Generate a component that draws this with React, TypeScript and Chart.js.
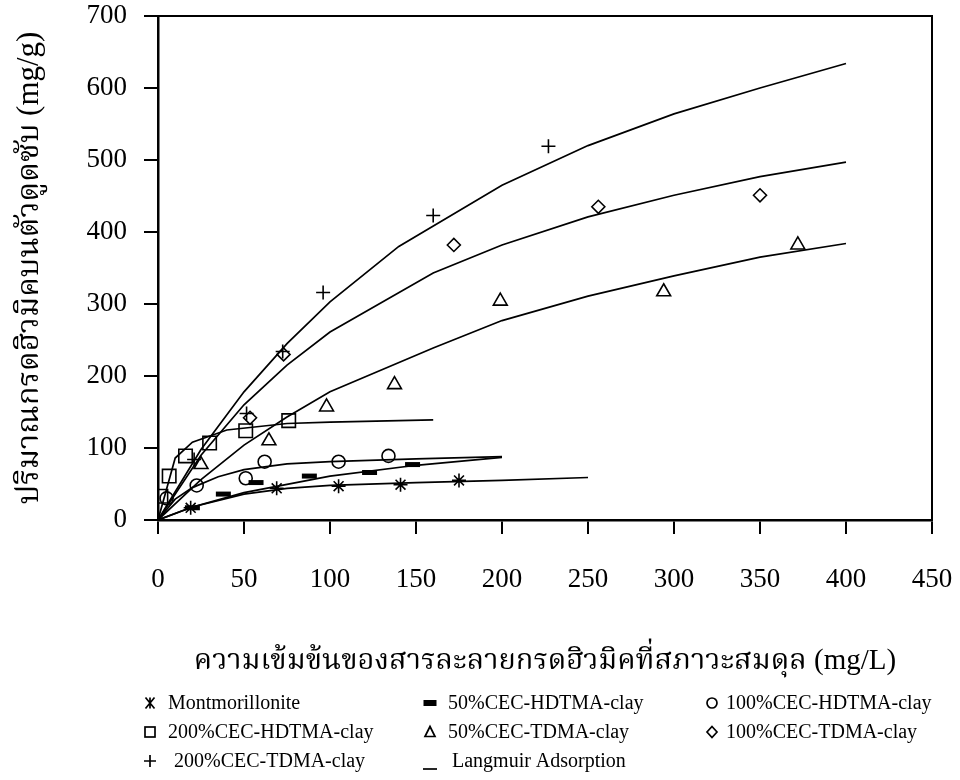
import React, { useEffect, useRef } from 'react';
import { Chart, registerables } from 'chart.js';

Chart.register(...registerables);

const FONT = "'Liberation Serif', 'Times New Roman', 'Noto Serif Thai', 'Noto Sans Thai', serif";

// Tick labels
const xTicks = [0, 50, 100, 150, 200, 250, 300, 350, 400, 450];
const yTicks = [0, 100, 200, 300, 400, 500, 600, 700];

const xTitle = 'ความเข้มข้นของสารละลายกรดฮิวมิคที่สภาวะสมดุล (mg/L)';
const yTitle = 'ปริมาณกรดฮิวมิคบนตัวดูดซับ (mg/g)';

// Series labels
const seriesLabels = [
  'Montmorillonite',
  '50%CEC-HDTMA-clay',
  '100%CEC-HDTMA-clay',
  '200%CEC-HDTMA-clay',
  '50%CEC-TDMA-clay',
  '100%CEC-TDMA-clay',
  '200%CEC-TDMA-clay',
];
const fitLabel = 'Langmuir Adsorption';

// Measured points
const montX = [19, 69, 105, 141, 175];
const montY = [17, 44, 47, 49, 55];
const hd50X = [20, 38, 57, 88, 123, 148];
const hd50Y = [17, 36, 52, 61, 66, 77];
const hd100X = [5, 22.5, 51, 62, 105, 134];
const hd100Y = [30, 48, 58, 81, 81, 89];
const hd200X = [1.7, 6.5, 16, 30, 51, 76];
const hd200Y = [33, 61, 89, 107, 124, 138];
const td50X = [25, 64.5, 98, 137.5, 199, 294, 372];
const td50Y = [77, 110, 157, 188, 304, 317, 382];
const td100X = [53.5, 73, 172, 256, 350];
const td100Y = [142, 230, 382, 435, 451];
const td200X = [21, 51.5, 72.5, 96, 160, 227];
const td200Y = [84, 148, 234, 316, 423, 519];

// Langmuir fitted curves
const montFitX = [0, 20, 50, 75, 100, 150, 200, 250];
const montFitY = [0, 18, 36, 44, 48, 52, 55, 59];
const hd50FitX = [0, 20, 50, 100, 150, 200];
const hd50FitY = [0, 18, 38, 61, 76, 87];
const hd100FitX = [0, 10, 20, 35, 50, 75, 100, 150, 200];
const hd100FitY = [0, 29, 45, 60, 70, 78, 81, 85, 88];
const hd200FitX = [0, 10, 20, 40, 75, 100, 160];
const hd200FitY = [0, 86, 108, 125, 134, 136, 139];
const td50FitX = [0, 25, 50, 75, 100, 160, 200, 250, 300, 350, 400];
const td50FitY = [0, 56, 104, 143, 178, 239, 277, 311, 339, 365, 384];
const td100FitX = [0, 25, 50, 75, 100, 160, 200, 250, 300, 350, 400];
const td100FitY = [0, 90, 160, 215, 261, 343, 382, 421, 451, 477, 497];
const td200FitX = [0, 25, 50, 75, 100, 140, 200, 250, 300, 350, 400];
const td200FitY = [0, 98, 178, 245, 303, 380, 465, 520, 564, 600, 634];

const zip = (xs: number[], ys: number[]) => xs.map((x, i) => ({ x, y: ys[i] }));

const markerData = [
  zip(montX, montY),
  zip(hd50X, hd50Y),
  zip(hd100X, hd100Y),
  zip(hd200X, hd200Y),
  zip(td50X, td50Y),
  zip(td100X, td100Y),
  zip(td200X, td200Y),
];
const fitData = [
  zip(montFitX, montFitY),
  zip(hd50FitX, hd50FitY),
  zip(hd100FitX, hd100FitY),
  zip(hd200FitX, hd200FitY),
  zip(td50FitX, td50FitY),
  zip(td100FitX, td100FitY),
  zip(td200FitX, td200FitY),
];

const markerStyles: any[] = [
  { pointStyle: 'star', radius: 7, borderWidth: 1.6 },
  { pointStyle: 'line', radius: 7.5, borderWidth: 5 },
  { pointStyle: 'circle', radius: 6.5, borderWidth: 1.6 },
  { pointStyle: 'rect', radius: 9.5, borderWidth: 1.6 },
  { pointStyle: 'triangle', radius: 8, borderWidth: 1.6 },
  { pointStyle: 'rectRot', radius: 6.5, borderWidth: 1.6 },
  { pointStyle: 'cross', radius: 7, borderWidth: 1.6 },
];

const legendSymbols = ['star', 'dash', 'circle', 'square', 'triangle', 'diamond', 'plus', 'line'];

function drawLegendSymbol(ctx: CanvasRenderingContext2D, sym: string, x: number, y: number) {
  ctx.save();
  ctx.strokeStyle = '#000';
  ctx.fillStyle = '#000';
  ctx.lineWidth = 1.7;
  ctx.beginPath();
  switch (sym) {
    case 'star':
      ctx.moveTo(x, y - 5.5); ctx.lineTo(x, y + 5.5);
      ctx.moveTo(x - 4.5, y - 5.5); ctx.lineTo(x + 4.5, y + 5.5);
      ctx.moveTo(x + 4.5, y - 5.5); ctx.lineTo(x - 4.5, y + 5.5);
      ctx.stroke();
      break;
    case 'dash':
      ctx.fillRect(x - 6.5, y - 3, 13, 6);
      break;
    case 'circle':
      ctx.arc(x, y, 5, 0, Math.PI * 2);
      ctx.stroke();
      break;
    case 'square':
      ctx.strokeRect(x - 5, y - 5, 10, 10);
      break;
    case 'triangle':
      ctx.moveTo(x, y - 5.5); ctx.lineTo(x + 5, y + 4.5); ctx.lineTo(x - 5, y + 4.5); ctx.closePath();
      ctx.stroke();
      break;
    case 'diamond':
      ctx.moveTo(x, y - 5.5); ctx.lineTo(x + 5, y); ctx.lineTo(x, y + 5.5); ctx.lineTo(x - 5, y); ctx.closePath();
      ctx.stroke();
      break;
    case 'plus':
      ctx.moveTo(x, y - 6); ctx.lineTo(x, y + 6);
      ctx.moveTo(x - 6, y); ctx.lineTo(x + 6, y);
      ctx.stroke();
      break;
    case 'line':
      ctx.moveTo(x - 7, y + 8); ctx.lineTo(x + 7, y + 8);
      ctx.stroke();
      break;
  }
  ctx.restore();
}

const framePlugin = {
  id: 'frameAndLegend',
  afterDraw(chart: any) {
    const { ctx, chartArea: a } = chart;
    ctx.save();
    ctx.strokeStyle = '#000';
    ctx.lineWidth = 2;
    ctx.beginPath();
    ctx.moveTo(a.left, a.top);
    ctx.lineTo(a.right, a.top);
    ctx.lineTo(a.right, a.bottom);
    ctx.stroke();

    // legend: 3 columns x 3 rows
    const labels = [...seriesLabels, fitLabel];
    const colSym = [150, 430, 712];
    const colText = [168, 448, 726];
    const rowY = [703, 732, 761];
    ctx.font = `20px ${FONT}`;
    ctx.textBaseline = 'middle';
    ctx.textAlign = 'left';
    ctx.fillStyle = '#000';
    labels.forEach((lab, i) => {
      const r = Math.floor(i / 3);
      const c = i % 3;
      drawLegendSymbol(ctx, legendSymbols[i], colSym[c], rowY[r]);
      const extra = i === 6 ? 6 : i === 7 ? 4 : 0;
      ctx.fillText(lab, colText[c] + extra, rowY[r] + 1);
    });
    ctx.restore();
  },
};

export default function App() {
  const ref = useRef<HTMLCanvasElement>(null);
  useEffect(() => {
    const canvas = ref.current;
    if (!canvas) return;
    const datasets: any[] = [];
    fitData.forEach((d, i) => {
      datasets.push({
        label: fitLabel + ' ' + i,
        data: d,
        showLine: true,
        borderColor: '#000',
        borderWidth: 1.7,
        pointRadius: 0,
        tension: 0,
        fill: false,
      });
    });
    markerData.forEach((d, i) => {
      const st = markerStyles[i];
      datasets.push({
        label: seriesLabels[i],
        data: d,
        showLine: false,
        pointStyle: st.pointStyle,
        pointRadius: st.radius,
        pointBorderWidth: st.borderWidth,
        pointBorderColor: '#000',
        pointBackgroundColor: i === 1 ? '#000' : 'rgba(0,0,0,0)',
        borderColor: '#000',
        backgroundColor: 'rgba(0,0,0,0)',
      });
    });

    const chart = new Chart(canvas, {
      type: 'scatter',
      data: { datasets },
      plugins: [framePlugin],
      options: {
        responsive: false,
        animation: false,
        devicePixelRatio: 1,
        layout: { padding: { left: 0, top: 16, right: 28, bottom: 101 } },
        plugins: { legend: { display: false }, tooltip: { enabled: false } },
        scales: {
          x: {
            type: 'linear',
            min: 0,
            max: 450,
            afterBuildTicks: (s: any) => { s.ticks = xTicks.map((v) => ({ value: v })); },
            afterFit: (s: any) => { s.height = 159; s.paddingLeft = 0; s.paddingRight = 0; },
            border: { display: true, color: '#000', width: 2.5 },
            grid: { display: true, drawOnChartArea: false, drawTicks: true, tickLength: 14, color: '#000', lineWidth: 2 },
            ticks: { color: '#000', font: { family: FONT, size: 27 }, padding: 30, maxRotation: 0, autoSkip: false },
            title: { display: true, text: xTitle, color: '#000', font: { family: FONT, size: 29 }, padding: { top: 0, bottom: 0 } },
          },
          y: {
            type: 'linear',
            min: 0,
            max: 700,
            afterBuildTicks: (s: any) => { s.ticks = yTicks.map((v) => ({ value: v })); },
            afterFit: (s: any) => { s.width = 158; s.paddingTop = 0; s.paddingBottom = 0; },
            border: { display: true, color: '#000', width: 2.5 },
            grid: { display: true, drawOnChartArea: false, drawTicks: true, tickLength: 14, color: '#000', lineWidth: 2 },
            ticks: { color: '#000', font: { family: FONT, size: 27 }, padding: 17, autoSkip: false },
            title: { display: true, text: yTitle, color: '#000', font: { family: FONT, size: 31 }, padding: { top: 11, bottom: 0 } },
          },
        },
      } as any,
    });
    return () => chart.destroy();
  }, []);

  return (
    <div style={{ position: 'absolute', left: 0, top: 0, width: 960, height: 780, background: '#fff' }}>
      <canvas ref={ref} width={960} height={780} style={{ width: 960, height: 780, display: 'block' }} />
    </div>
  );
}
